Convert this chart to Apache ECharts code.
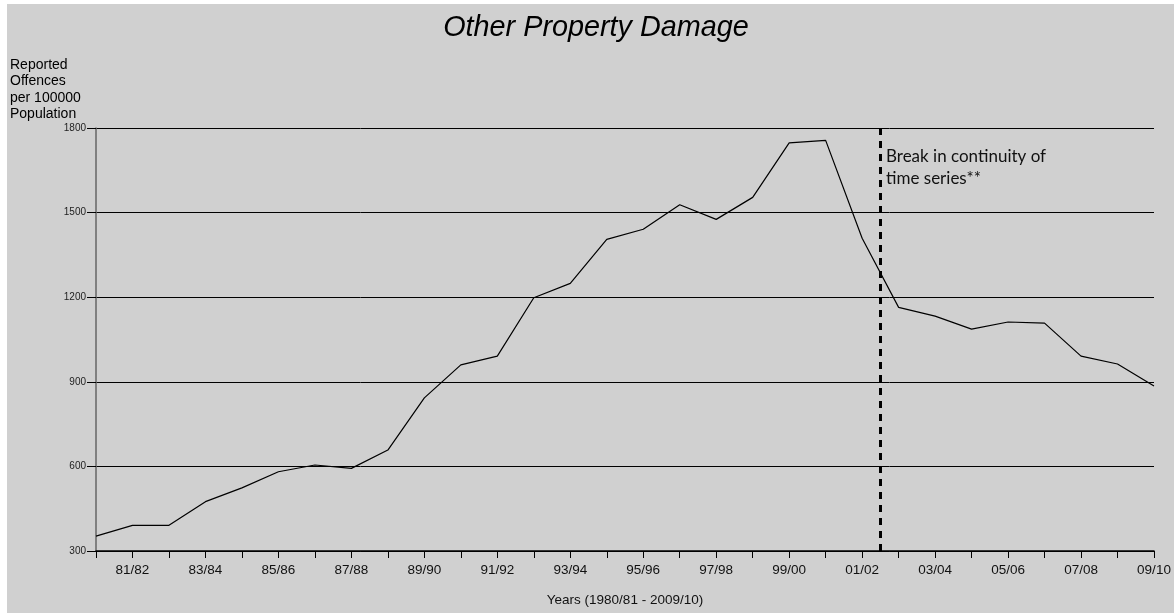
<!DOCTYPE html>
<html>
<head>
<meta charset="utf-8">
<script src="https://cdn.jsdelivr.net/npm/echarts@6/dist/echarts.min.js"></script>
<style>
html,body{margin:0;padding:0;background:#fff;}
#bg{position:absolute;left:7px;top:4px;width:1167px;height:609px;background:#d0d0d0;}
#c{position:absolute;left:0;top:0;width:1174px;height:613px;}
</style>
</head>
<body>
<div id="bg"></div>
<div id="c"></div>
<script>
const categories = ['80/81','81/82','82/83','83/84','84/85','85/86','86/87','87/88','88/89','89/90',
  '90/91','91/92','92/93','93/94','94/95','95/96','96/97','97/98','98/99','99/00',
  '00/01','01/02','02/03','03/04','04/05','05/06','06/07','07/08','08/09','09/10'];
const offences = [353, 391, 391, 475, 524, 581, 605, 593, 658, 843,
  960, 991, 1198, 1249, 1405, 1441, 1528, 1476, 1554, 1747,
  1756, 1409, 1164, 1133, 1087, 1112, 1108, 991, 963, 885];
const yTicks = [300, 600, 900, 1200, 1500, 1800];
const breakPosition = 21.5; // between 01/02 and 02/03

const chart = echarts.init(document.getElementById('c'), null, {renderer: 'canvas'});
const font = '"Liberation Sans", Arial, sans-serif';

chart.setOption({
  backgroundColor: 'transparent',
  animation: false,
  title: {
    text: 'Other Property Damage',
    left: 591, top: 8, textAlign: 'center',
    textStyle: {fontFamily: font, fontStyle: 'italic', fontWeight: 'normal', fontSize: 28.8, color: '#000'}
  },
  graphic: [
    {
      type: 'text', left: 10, top: 57,
      style: {text: 'Reported\nOffences\nper 100000\nPopulation', font: '14px "Liberation Sans", Arial, sans-serif', fill: '#000', lineHeight: 16.3}
    },
    {
      type: 'text', left: 886, top: 146,
      style: {text: 'Break in continuity of\ntime series**', font: '17px Lato, "Noto Sans", sans-serif', fill: '#111', lineHeight: 21.5}
    }
  ],
  grid: {left: 96, right: 20, top: 128, bottom: 62, containLabel: false},
  xAxis: [
    {
      type: 'category', data: categories, boundaryGap: false,
      name: 'Years (1980/81 - 2009/10)', nameLocation: 'middle', nameGap: 42,
      nameTextStyle: {fontFamily: font, fontSize: 13.5, color: '#111'},
      axisLine: {lineStyle: {color: '#000', width: 1.5}},
      axisTick: {show: true, interval: 0, length: 7, lineStyle: {color: '#000', width: 1}},
      axisLabel: {interval: (i) => i % 2 === 1, margin: 12, fontFamily: font, fontSize: 13.5, color: '#111'},
      splitLine: {show: false}
    },
    {type: 'value', min: 0, max: categories.length - 1, show: false}
  ],
  yAxis: {
    type: 'value', min: yTicks[0], max: yTicks[yTicks.length - 1], interval: 300,
    axisLine: {show: true, lineStyle: {color: '#666', width: 1.5}},
    axisTick: {show: true, length: 9, lineStyle: {color: '#000', width: 1}},
    axisLabel: {margin: 10, fontFamily: font, fontSize: 10, color: '#222', formatter: (v) => String(v)},
    splitLine: {show: true, lineStyle: {color: '#000', width: 1}}
  },
  series: [
    {
      type: 'line', data: offences, xAxisIndex: 0,
      symbol: 'none', lineStyle: {color: '#000', width: 1.2}, z: 3
    },
    {
      type: 'line', xAxisIndex: 1, data: [[breakPosition, null]], symbol: 'none',
      lineStyle: {width: 0},
      markLine: {
        silent: true, symbol: ['none', 'none'],
        label: {show: false},
        lineStyle: {color: '#000', width: 3, type: [7, 6]},
        data: [{xAxis: breakPosition}]
      }
    }
  ]
});
</script>
</body>
</html>
